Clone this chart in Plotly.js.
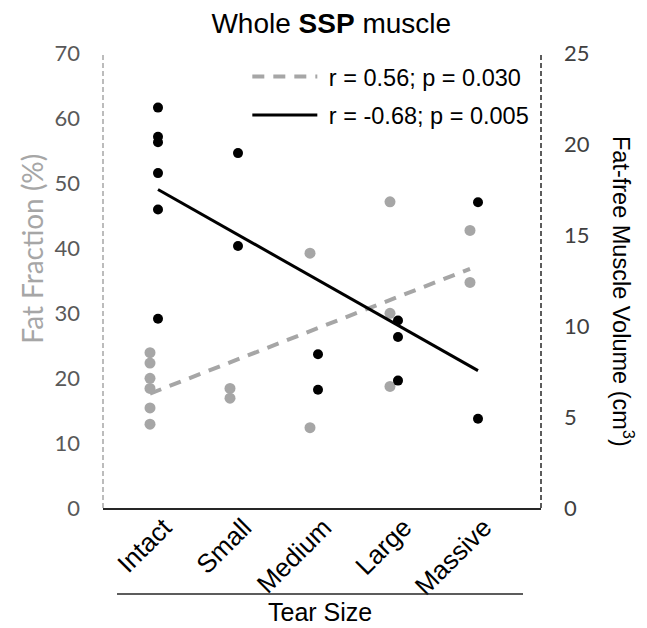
<!DOCTYPE html>
<html>
<head>
<meta charset="utf-8">
<script src="https://cdn.plot.ly/plotly-3.0.1.min.js"></script>
<style>html,body{margin:0;padding:0;background:#fff;}#chart{width:647px;height:628px;}</style>
</head>
<body>
<div id="chart"></div>
<script>
// ---- data ----
const categories = ['Intact', 'Small', 'Medium', 'Large', 'Massive'];

const fatCategory = ['Intact','Intact','Intact','Intact','Intact','Intact','Small','Small','Medium','Medium','Large','Large','Large','Massive','Massive'];
const fatFraction = [23.9, 22.3, 19.95, 18.4, 15.4, 12.9, 18.4, 16.9, 39.2, 12.35, 47.1, 29.95, 18.7, 42.7, 34.7];

const volCategory = ['Intact','Intact','Intact','Intact','Intact','Intact','Small','Small','Medium','Medium','Large','Large','Large','Massive','Massive'];
const muscleVolume = [22.0, 20.4, 20.1, 18.4, 16.4, 10.4, 19.5, 14.4, 8.45, 6.5, 10.3, 9.4, 7.0, 16.8, 4.9];

const trendCategory = ['Intact', 'Massive'];
const fatTrend = [17.6, 36.8];
const volTrend = [17.5, 7.55];

const fatLegend = 'r = 0.56; p = 0.030';
const volLegend = 'r = -0.68; p = 0.005';

// ---- build ----
const idx = c => categories.indexOf(c);
const fatOffset = -0.05, volOffset = 0.05, labelShift = 0.125;
const grey = '#a6a6a6';
const nb = '\u00a0';

const traces = [
  {x: trendCategory.map(c => idx(c) + fatOffset), y: fatTrend, type: 'scatter', mode: 'lines',
   line: {color: grey, width: 4, dash: '12px,9px'}, name: nb + fatLegend, legend: 'legend', yaxis: 'y'},
  {x: trendCategory.map(c => idx(c) + volOffset), y: volTrend, type: 'scatter', mode: 'lines',
   line: {color: '#000', width: 3}, name: nb + volLegend, legend: 'legend2', yaxis: 'y2'},
  {x: fatCategory.map(c => idx(c) + fatOffset), y: fatFraction, type: 'scatter', mode: 'markers',
   marker: {color: grey, size: 11}, showlegend: false, yaxis: 'y'},
  {x: volCategory.map(c => idx(c) + volOffset), y: muscleVolume, type: 'scatter', mode: 'markers',
   marker: {color: '#000', size: 10}, showlegend: false, yaxis: 'y2'}
];

const tickFont = {family: 'Lato, sans-serif', size: 22};
const arial = 'Liberation Sans, Arial, sans-serif';

const layout = {
  width: 647, height: 628,
  margin: {l: 103, r: 106, t: 53, b: 120},
  paper_bgcolor: '#fff', plot_bgcolor: '#fff',
  showlegend: true,
  title: {text: 'Whole <b>SSP</b> muscle', font: {family: arial, size: 28, color: '#000'},
          xref: 'container', x: 0.512, yref: 'container', y: 0.963, yanchor: 'middle', xanchor: 'center'},
  xaxis: {
    range: [-0.6375, 4.8375], showgrid: false, zeroline: false,
    showline: true, linecolor: '#262626', linewidth: 2,
    tickvals: categories.map((c, i) => i + labelShift), ticktext: categories,
    tickangle: -45, ticks: '', ticklabelstandoff: -8, tickfont: {family: arial, size: 26, color: '#000'}
  },
  yaxis: {
    range: [0, 70], dtick: 10, showgrid: false, zeroline: false, showline: false,
    ticks: '', ticklabelstandoff: 22, tickfont: Object.assign({color: '#595959'}, tickFont)
  },
  yaxis2: {
    range: [0, 25], dtick: 5, overlaying: 'y', side: 'right', showgrid: false, zeroline: false,
    showline: false, ticks: '', ticklabelstandoff: 22, tickfont: Object.assign({color: '#404040'}, tickFont)
  },
  legend: {x: 0.3295, y: 0.948, xanchor: 'left', yanchor: 'middle', bgcolor: 'rgba(0,0,0,0)',
           itemwidth: 65, font: {family: arial, size: 23.5, color: '#000'}},
  legend2: {x: 0.3295, y: 0.863, xanchor: 'left', yanchor: 'middle', bgcolor: 'rgba(0,0,0,0)',
           itemwidth: 65, font: {family: arial, size: 23.5, color: '#000'}},
  shapes: [
    {type: 'line', xref: 'paper', yref: 'paper', x0: 0, x1: 0, y0: 0, y1: 1,
     line: {color: grey, width: 1.5, dash: '5px,3px'}},
    {type: 'line', xref: 'paper', yref: 'paper', x0: 1, x1: 1, y0: 0, y1: 1,
     line: {color: '#262626', width: 1.5, dash: '5px,3px'}},
    {type: 'line', xref: 'paper', yref: 'paper', x0: 0.032, x1: 0.959, y0: -0.189, y1: -0.189,
     line: {color: '#262626', width: 1.5}}
  ],
  annotations: [
    {text: 'Tear Size', xref: 'paper', yref: 'paper', x: 0.495, y: -0.229, xanchor: 'center', yanchor: 'middle',
     showarrow: false, font: {family: arial, size: 25, color: '#000'}},
    {text: 'Fat Fraction (%)', xref: 'paper', yref: 'paper', x: -0.162, y: 0.57, xanchor: 'center', yanchor: 'middle',
     textangle: -90, showarrow: false, font: {family: 'Lato, sans-serif', size: 28, color: '#a6a6a6'}},
    {text: 'Fat-free Muscle Volume (cm<sup>3</sup>)', xref: 'paper', yref: 'paper', x: 1.187, y: 0.475,
     xanchor: 'center', yanchor: 'middle', textangle: 90, showarrow: false,
     font: {family: arial, size: 23.5, color: '#000'}}
  ]
};

Plotly.newPlot('chart', traces, layout, {displayModeBar: false, staticPlot: true});
</script>
</body>
</html>
